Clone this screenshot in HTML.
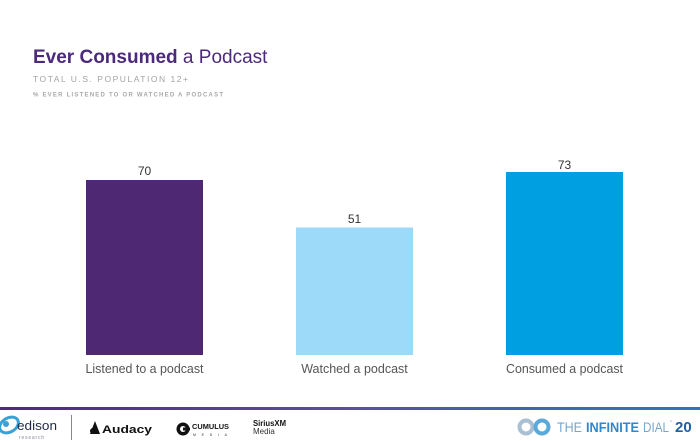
<!DOCTYPE html>
<html>
<head>
<meta charset="utf-8">
<style>
  html, body { margin:0; padding:0; background:#ffffff; }
  body { width:700px; height:441px; overflow:hidden; }
  svg { display:block; }
  text { font-family: "Liberation Sans", "DejaVu Sans", sans-serif; }
</style>
</head>
<body>
<svg width="700" height="441" viewBox="0 0 700 441" xmlns="http://www.w3.org/2000/svg">
  <defs>
    <linearGradient id="rule" x1="0" y1="0" x2="1" y2="0">
      <stop offset="0" stop-color="#4e2a7a"/>
      <stop offset="0.5" stop-color="#5a4fa0"/>
      <stop offset="1" stop-color="#2f74c4"/>
    </linearGradient>
  </defs>

  <!-- Title -->
  <text x="33" y="63" font-size="19" fill="#4b2a7b"><tspan font-weight="bold">Ever Consumed</tspan> a Podcast</text>
  <text x="33" y="82" font-size="8.5" fill="#a3a3a3" textLength="155" lengthAdjust="spacing">TOTAL U.S. POPULATION 12+</text>
  <text x="33" y="96.5" font-size="6" font-weight="bold" fill="#a8a8a8" textLength="190" lengthAdjust="spacing">% EVER LISTENED TO OR WATCHED A PODCAST</text>

  <!-- Bars -->
  <rect x="86" y="180" width="117" height="175" fill="#4f2874"/>
  <rect x="296" y="227.5" width="117" height="127.5" fill="#9dd9f9"/>
  <rect x="506" y="172" width="117" height="183" fill="#009fe2"/>

  <!-- Value labels -->
  <text x="144.5" y="175" font-size="12" fill="#333" text-anchor="middle">70</text>
  <text x="354.5" y="223" font-size="12" fill="#333" text-anchor="middle">51</text>
  <text x="564.5" y="169" font-size="12" fill="#333" text-anchor="middle">73</text>

  <!-- Category labels -->
  <text x="144.5" y="373" font-size="12.5" fill="#555" text-anchor="middle" textLength="118" lengthAdjust="spacingAndGlyphs">Listened to a podcast</text>
  <text x="354.5" y="373" font-size="12.5" fill="#555" text-anchor="middle">Watched a podcast</text>
  <text x="564.5" y="373" font-size="12.5" fill="#555" text-anchor="middle" textLength="117" lengthAdjust="spacingAndGlyphs">Consumed a podcast</text>

  <!-- Footer rule -->
  <rect x="0" y="407" width="700" height="3" fill="url(#rule)"/>

  <!-- Edison logo -->
  <ellipse cx="9" cy="425" rx="10" ry="7" fill="none" stroke="#3aa0d8" stroke-width="3" transform="rotate(-30 9 425)"/>
  <circle cx="6" cy="424" r="3" fill="#3aa0d8"/>
  <text x="17" y="430" font-size="13" fill="#1f2a48" textLength="40" lengthAdjust="spacingAndGlyphs">edison</text>
  <text x="19" y="439" font-size="5" fill="#8a8a9a" letter-spacing="0.8">research</text>
  <rect x="71" y="415" width="1" height="25" fill="#888"/>

  <!-- Audacy -->
  <polygon points="90,434 95,421 100,434" fill="#111"/>
  <circle cx="93" cy="431" r="3" fill="#111"/>
  <text x="102" y="433" font-size="11" font-weight="bold" fill="#111" textLength="50" lengthAdjust="spacingAndGlyphs">Audacy</text>

  <!-- Cumulus -->
  <circle cx="183" cy="429" r="6.5" fill="#111"/>
  <circle cx="183" cy="429" r="3" fill="#fff"/>
  <rect x="183" y="427.5" width="7" height="3" fill="#111"/>
  <text x="192" y="429" font-size="7" font-weight="bold" fill="#111" textLength="37" lengthAdjust="spacingAndGlyphs">CUMULUS</text>
  <text x="193" y="436" font-size="3.5" fill="#333" textLength="34" lengthAdjust="spacing">MEDIA</text>

  <!-- SiriusXM -->
  <text x="253" y="426" font-size="8" font-weight="bold" fill="#111" textLength="33" lengthAdjust="spacingAndGlyphs">SiriusXM</text>
  <text x="253" y="434" font-size="8" fill="#333">Media</text>

  <!-- The Infinite Dial -->
  <circle cx="526" cy="427" r="6.5" fill="none" stroke="#a9bfd2" stroke-width="4"/>
  <circle cx="542" cy="427" r="6.5" fill="none" stroke="#5aa9d9" stroke-width="4"/>
  <text x="557" y="432" font-size="14" fill="#7aa6c8" textLength="25" lengthAdjust="spacingAndGlyphs">THE</text>
  <text x="586" y="432" font-size="14" font-weight="bold" fill="#2f87cc" textLength="53" lengthAdjust="spacingAndGlyphs">INFINITE</text>
  <text x="643" y="432" font-size="14" fill="#7aa6c8" textLength="26" lengthAdjust="spacingAndGlyphs">DIAL</text>
  <text x="670" y="424" font-size="5" fill="#7aa6c8">°</text>
  <text x="675" y="432" font-size="15" font-weight="bold" fill="#1f5fa8">20</text>
</svg>
</body>
</html>
